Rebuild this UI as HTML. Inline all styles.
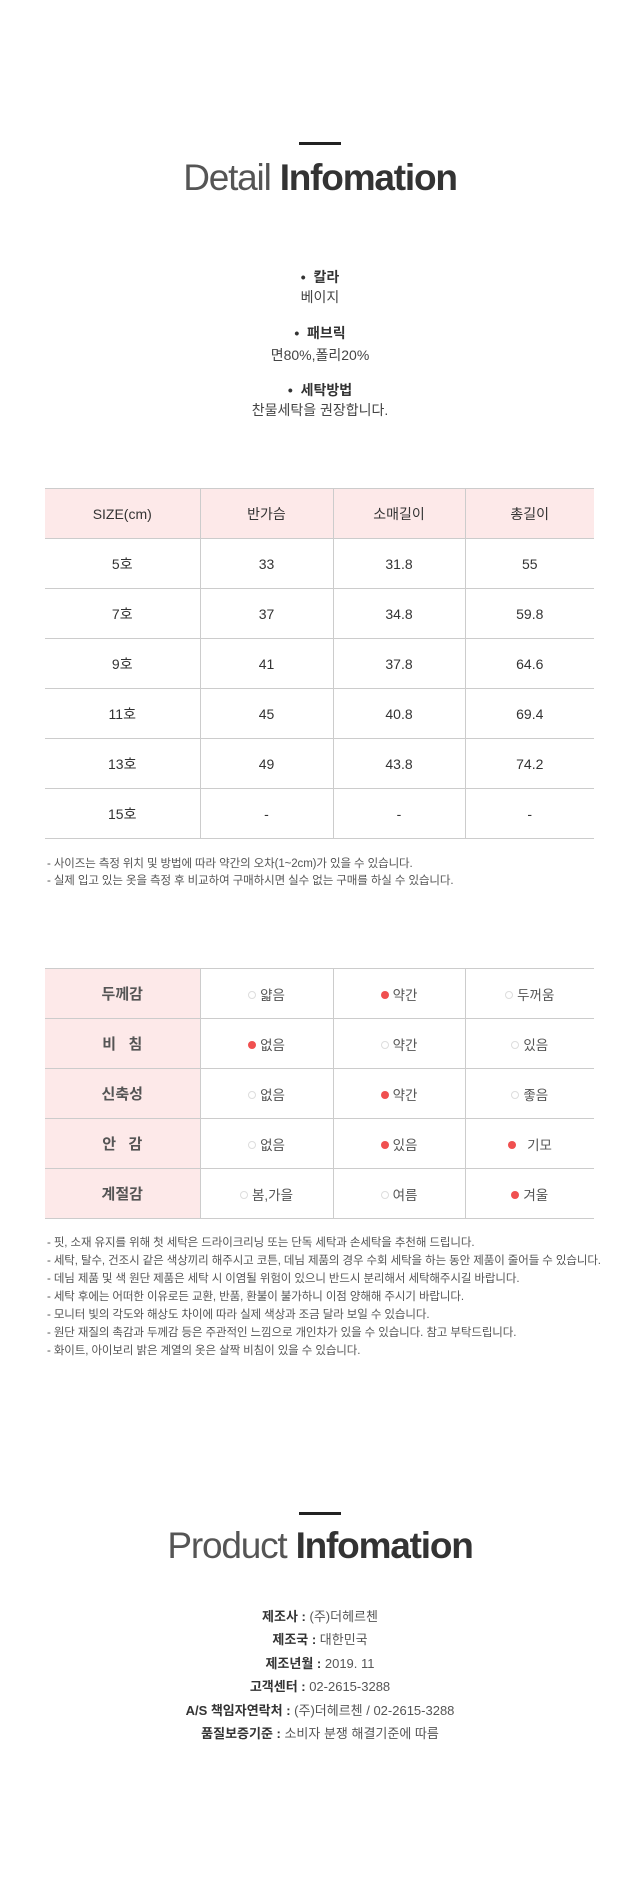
<!DOCTYPE html>
<html><head><meta charset="utf-8"><style>
*{margin:0;padding:0;box-sizing:border-box}
body{width:640px;height:1900px;background:#fff;position:relative;font-family:"Liberation Sans","Noto Sans CJK KR",sans-serif;color:#333;overflow:hidden}
.bar{position:absolute;left:299px;width:42px;height:3px;background:#222}
.title{position:absolute;left:0;width:640px;text-align:center;font-size:37px;letter-spacing:-1.2px;color:#333;white-space:nowrap;line-height:40px}
.title .l{font-weight:300;color:#555}
.title b{font-weight:bold;color:#333}
.c{position:absolute;left:0;width:640px;text-align:center;font-size:14px;line-height:20px}
table{position:absolute;left:45px;width:549px;border-collapse:collapse;font-size:14px;color:#333}
td{border-top:1.5px solid #ccc;border-bottom:1.5px solid #ccc;text-align:center;height:50px;padding:0}
td+td{border-left:1.5px solid #ccc}
.h td{background:#fde9e9}
td.k{background:#fde9e9;font-weight:bold;font-size:15px}
.note{position:absolute;left:47px;font-size:11.5px;color:#555;letter-spacing:-0.1px;line-height:18px;white-space:nowrap}
.o{display:inline-block;width:8px;height:8px;border:1px solid #ddd;border-radius:50%;margin-right:4px;vertical-align:1px}
.f{display:inline-block;width:8px;height:8px;background:#f05050;border-radius:50%;margin-right:4px;vertical-align:1px}
.p{position:absolute;left:0;width:640px;text-align:center;font-size:13px;color:#555;line-height:23.4px}
.p b{color:#333}
</style></head><body>
<div class="bar" style="top:142px"></div>
<div class="title" style="top:158px"><span class="l">Detail</span> <b>Infomation</b></div>

<div class="c" style="top:267px;font-weight:bold">•&nbsp; 칼라</div>
<div class="c" style="top:287px;color:#444">베이지</div>
<div class="c" style="top:323px;font-weight:bold">•&nbsp; 패브릭</div>
<div class="c" style="top:345px;color:#444">면80%,폴리20%</div>
<div class="c" style="top:380px;font-weight:bold">•&nbsp; 세탁방법</div>
<div class="c" style="top:400px;color:#444">찬물세탁을 권장합니다.</div>

<table style="top:488px">
<colgroup><col style="width:155px"><col style="width:133px"><col style="width:132px"><col></colgroup>
<tr class="h"><td>SIZE(cm)</td><td>반가슴</td><td>소매길이</td><td>총길이</td></tr>
<tr><td>5호</td><td>33</td><td>31.8</td><td>55</td></tr>
<tr><td>7호</td><td>37</td><td>34.8</td><td>59.8</td></tr>
<tr><td>9호</td><td>41</td><td>37.8</td><td>64.6</td></tr>
<tr><td>11호</td><td>45</td><td>40.8</td><td>69.4</td></tr>
<tr><td>13호</td><td>49</td><td>43.8</td><td>74.2</td></tr>
<tr><td>15호</td><td>-</td><td>-</td><td>-</td></tr>
</table>
<div class="note" style="top:856px;line-height:17px">- 사이즈는 측정 위치 및 방법에 따라 약간의 오차(1~2cm)가 있을 수 있습니다.<br>- 실제 입고 있는 옷을 측정 후 비교하여 구매하시면 실수 없는 구매를 하실 수 있습니다.</div>

<table style="top:968px;font-size:13.5px;color:#555">
<colgroup><col style="width:155px"><col style="width:133px"><col style="width:132px"><col></colgroup>
<tr><td class="k">두께감</td><td><span class="o"></span>얇음</td><td><span class="f"></span>약간</td><td><span class="o"></span>두꺼움</td></tr>
<tr><td class="k">비 &nbsp;&nbsp;침</td><td><span class="f"></span>없음</td><td><span class="o"></span>약간</td><td><span class="o"></span>있음</td></tr>
<tr><td class="k">신축성</td><td><span class="o"></span>없음</td><td><span class="f"></span>약간</td><td><span class="o"></span>좋음</td></tr>
<tr><td class="k">안 &nbsp;&nbsp;감</td><td><span class="o"></span>없음</td><td><span class="f"></span>있음</td><td><span class="f"></span>&nbsp; 기모</td></tr>
<tr><td class="k">계절감</td><td><span class="o"></span>봄,가을</td><td><span class="o"></span>여름</td><td><span class="f"></span>겨울</td></tr>
</table>
<div class="note" style="top:1234px">- 핏, 소재 유지를 위해 첫 세탁은 드라이크리닝 또는 단독 세탁과 손세탁을 추천해 드립니다.<br>- 세탁, 탈수, 건조시 같은 색상끼리 해주시고 코튼, 데님 제품의 경우 수회 세탁을 하는 동안 제품이 줄어들 수 있습니다.<br>- 데님 제품 및 색 원단 제품은 세탁 시 이염될 위험이 있으니 반드시 분리해서 세탁해주시길 바랍니다.<br>- 세탁 후에는 어떠한 이유로든 교환, 반품, 환불이 불가하니 이점 양해해 주시기 바랍니다.<br>- 모니터 빛의 각도와 해상도 차이에 따라 실제 색상과 조금 달라 보일 수 있습니다.<br>- 원단 재질의 촉감과 두께감 등은 주관적인 느낌으로 개인차가 있을 수 있습니다. 참고 부탁드립니다.<br>- 화이트, 아이보리 밝은 계열의 옷은 살짝 비침이 있을 수 있습니다.</div>

<div class="bar" style="top:1512px"></div>
<div class="title" style="top:1526px;font-size:37px"><span class="l">Product</span> <b>Infomation</b></div>
<div class="p" style="top:1605px"><b>제조사 :</b> (주)더헤르첸<br><b>제조국 :</b> 대한민국<br><b>제조년월 :</b> 2019. 11<br><b>고객센터 :</b> 02-2615-3288<br><b>A/S 책임자연락처 :</b> (주)더헤르첸 / 02-2615-3288<br><b>품질보증기준 :</b> 소비자 분쟁 해결기준에 따름</div>
</body></html>
